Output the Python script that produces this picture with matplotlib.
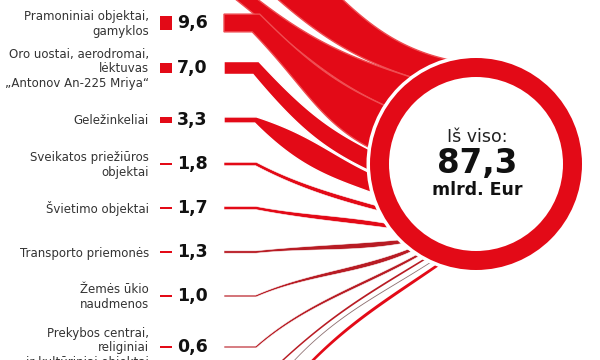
import numpy as np
import matplotlib
matplotlib.use("Agg")
import matplotlib.pyplot as plt
from matplotlib.patches import Polygon, Circle, Rectangle

# ---------------- data ----------------
categories = [
    "Pramoniniai objektai,\ngamyklos",
    "Oro uostai, aerodromai,\nlėktuvas\n„Antonov An-225 Mriya“",
    "Geležinkeliai",
    "Sveikatos priežiūros\nobjektai",
    "Švietimo objektai",
    "Transporto priemonės",
    "Žemės ūkio\nnaudmenos",
    "Prekybos centrai,\nreliginiai\nir kultūriniai objektai",
]
values = [9.6, 7.0, 3.3, 1.8, 1.7, 1.3, 1.0, 0.6]
total = 87.3
# categories outside the visible crop (estimated, drawn only partly)
hidden_above = [38.4, 21.1]
hidden_below = [0.5, 0.1, 0.9]

total_title = "Iš viso:"
total_unit = "mlrd. Eur"

# ---------------- style / layout ----------------
RED = "#e30a17"
DARK = "#b81c24"
LIGHT_EDGE = "#ef4d52"
TXT = "#333333"
CX, CY = 476.0, 164.0
R_OUT, R_IN, R_GAP = 106.0, 87.0, 109.5
X_START, X_KNEE = 224.0, 256.0
BAR_X, BAR_W = 160.0, 12.0

rows = [23, 68, 120, 164, 208, 252, 296, 347]          # row centres (px)
# arc (deg) occupied on the circle by each band: (upper edge, lower edge)
end_arcs = [(147, 172), (173, 184.5), (185.5, 197), (204.5, 207.5),
            (215.5, 218.5), (226.5, 229), (233, 235), (238, 239.6)]
# start direction (deg, + = downward) of upper / lower edge after the knee
start_dirs = [(45, 46), (47, 50), (18, 45), None, None, None, None, None]

# hidden bands: (row, start width, knee x, start dirs, arc)
above_geom = [(-72, 50, 238, (44, 44), (100, 125)),
              (-14, 14, 230, (40, 38), (125, 147))]
below_geom = [(386, 1.4, 256, (-45, -45), (242.5, 243.5)),
              (408, 0.7, 256, (-55, -55), (246.5, 247.0)),
              (428, 2.2, 256, (-54, -54), (250, 251.8))]
below_col = [DARK, "#8c6f70", RED]

# direction (deg, + = downward) with which a band meets the circle
tilt_a = [100, 150, 180, 197, 206, 217, 228, 234, 239, 252]
tilt_v = [10, 25, 27, 20, 15, 10, -8, -25, -30, -35]

fig = plt.figure(figsize=(6, 3.6), dpi=100)
ax = fig.add_axes([0, 0, 1, 1])
ax.set_xlim(0, 600)
ax.set_ylim(360, 0)
ax.axis("off")


def fmt(v):
    return f"{v:.1f}".replace(".", ",")


def pt_on_circle(a, r):
    t = np.radians(a)
    return np.array([CX + r * np.cos(t), CY - r * np.sin(t)])


def edge(y, kx, th, a, xs, f1=0.45, f2=0.35, r_end=104.0):
    """Flat segment at height y up to the knee, then a cubic curve into the circle."""
    P0 = np.array([kx, y], dtype=float)
    P3 = pt_on_circle(a, r_end)
    L = np.hypot(*(P3 - P0))
    d0 = np.array([np.cos(np.radians(th)), np.sin(np.radians(th))])
    tl = np.radians(np.interp(a, tilt_a, tilt_v))
    d3 = np.array([np.cos(tl), np.sin(tl)])
    P1 = P0 + d0 * f1 * L
    P2 = P3 - d3 * f2 * L
    u = np.linspace(0, 1, 90)[:, None]
    B = (1 - u) ** 3 * P0 + 3 * (1 - u) ** 2 * u * P1 + 3 * (1 - u) * u ** 2 * P2 + u ** 3 * P3
    return np.vstack([[xs, y], B])


def band(row, t0, arc, dirs=None, xs=X_START, kx=X_KNEE, color=RED,
         ec="white", lw=0.7, z=2):
    h = t0 / 2
    if dirs is None:
        pm = pt_on_circle(0.5 * (arc[0] + arc[1]), 104.0)
        chord = np.degrees(np.arctan2(pm[1] - row, pm[0] - kx))
        th = float(np.clip(1.4 * chord, -50, 48))
        dirs = (th, th)
        f1 = 0.35
    else:
        f1 = 0.45
    tt, tb = dirs
    top = edge(row - h, kx + h * np.tan(np.radians(tt) / 2), tt, arc[0], xs, f1=f1)
    bot = edge(row + h, kx - h * np.tan(np.radians(tb) / 2), tb, arc[1], xs, f1=f1)
    poly = np.vstack([top, bot[::-1]])
    ax.add_patch(Polygon(poly, closed=True, facecolor=color, edgecolor=ec,
                         linewidth=lw, zorder=z, joinstyle="miter"))


# hidden bands above (mostly off canvas)
for k, (v, g) in enumerate(zip(hidden_above, above_geom)):
    row, t0, kx, dirs, arc = g
    band(row, t0, arc, dirs=dirs, xs=150, kx=kx, ec=LIGHT_EDGE, lw=1.0,
         z=1 + 0.1 * k)

# visible bands
for i, v in enumerate(values):
    t0 = max(v * 1.85, 1.8)
    col = RED if v >= 1.5 else DARK
    ec = LIGHT_EDGE if i == 0 else "white"
    band(rows[i], t0, end_arcs[i], dirs=start_dirs[i], color=col,
         ec=ec, lw=1.0 if i < 3 else 0.4, z=2 + i * 0.1)

# hidden bands below (lines entering from the bottom edge)
for k, (v, g) in enumerate(zip(hidden_below, below_geom)):
    row, t0, kx, dirs, arc = g
    band(row, t0, arc, dirs=dirs, kx=kx, color=below_col[k], ec="none",
         lw=0, z=2)

# circle: white gap, red ring, white inside
ax.add_patch(Circle((CX, CY), R_GAP, facecolor="white", edgecolor="none", zorder=5))
ax.add_patch(Circle((CX, CY), R_OUT, facecolor=RED, edgecolor="none", zorder=6))
ax.add_patch(Circle((CX, CY), R_IN, facecolor="white", edgecolor="none", zorder=7))

ax.text(CX + 1, 137, total_title, ha="center", va="center", fontsize=12.5,
        color="#222222", zorder=8)
ax.text(CX + 1, 163, fmt(total), ha="center", va="center", fontsize=23.5,
        fontweight="bold", color="#111111", zorder=8)
ax.text(CX + 1, 190, total_unit, ha="center", va="center", fontsize=12.5,
        fontweight="bold", color="#111111", zorder=8)

# labels, bars, values
for i, (lab, v) in enumerate(zip(categories, values)):
    y = rows[i]
    ax.text(149, y + 1, lab, ha="right", va="center", fontsize=8.5,
            color=TXT, linespacing=1.15, multialignment="right", zorder=9)
    hb = max(v * 1.55, 2.2)
    ax.add_patch(Rectangle((BAR_X, y - hb / 2), BAR_W, hb, facecolor=RED,
                           edgecolor="none", zorder=9))
    ax.text(177, y, fmt(v), ha="left", va="center", fontsize=12.5,
            fontweight="bold", color="#111111", zorder=9)

fig.savefig("out.png", dpi=100, facecolor="white")
